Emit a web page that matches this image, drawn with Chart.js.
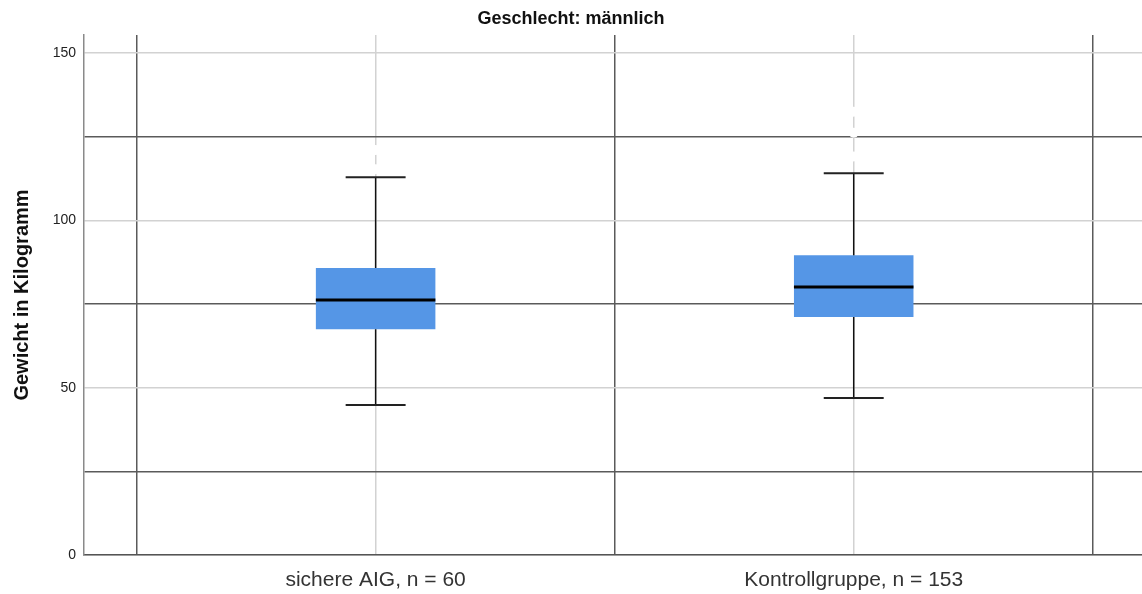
<!DOCTYPE html>
<html>
<head>
<meta charset="utf-8">
<script src="https://cdn.jsdelivr.net/npm/chart.js@4/dist/chart.umd.min.js"></script>
<style>
  html, body { margin: 0; padding: 0; background: #fff; }
  #wrap { width: 1142px; height: 594px; }
</style>
</head>
<body>
<div id="wrap"><canvas id="c" width="1142" height="594"></canvas></div>
<script>
// Body weight by group (men) — box plot summary
const categories = ['sichere AIG, n = 60', 'Kontrollgruppe, n = 153'];
const whiskerLow  = [44.8, 46.9];
const q1          = [67.5, 71.1];
const median      = [76.2, 80.1];
const q3          = [85.8, 89.6];
const whiskerHigh = [112.9, 114.1];
const outliers    = [[121.0, 115.3], [132.5, 126.2, 119.1]];

const yMajorTicks = [0, 50, 100, 150];
const yMinorLines = [25, 75, 125];

const FONT = "'Liberation Sans', Arial, sans-serif";

// whiskers, caps and median line drawn from the summary arrays via the chart scales
const boxPlotLines = {
  id: 'boxPlotLines',
  afterDatasetsDraw(chart) {
    const { ctx, scales: { x, y } } = chart;
    ctx.save();
    categories.forEach((_, i) => {
      const cx = x.getPixelForValue(i);
      const capL = x.getPixelForValue(i - 0.0627);
      const capR = x.getPixelForValue(i + 0.0627);
      const boxL = x.getPixelForValue(i - 0.125);
      const boxR = x.getPixelForValue(i + 0.125);
      ctx.strokeStyle = '#111';
      ctx.lineWidth = 1.5;
      ctx.beginPath();
      ctx.moveTo(cx, y.getPixelForValue(whiskerLow[i]));
      ctx.lineTo(cx, y.getPixelForValue(q1[i]));
      ctx.moveTo(cx, y.getPixelForValue(q3[i]));
      ctx.lineTo(cx, y.getPixelForValue(whiskerHigh[i]));
      ctx.stroke();
      ctx.lineWidth = 2;
      ctx.strokeStyle = '#222';
      ctx.beginPath();
      ctx.moveTo(capL, y.getPixelForValue(whiskerLow[i]));
      ctx.lineTo(capR, y.getPixelForValue(whiskerLow[i]));
      ctx.moveTo(capL, y.getPixelForValue(whiskerHigh[i]));
      ctx.lineTo(capR, y.getPixelForValue(whiskerHigh[i]));
      ctx.stroke();
      ctx.lineWidth = 3;
      ctx.strokeStyle = '#000';
      ctx.beginPath();
      ctx.moveTo(boxL, y.getPixelForValue(median[i]));
      ctx.lineTo(boxR, y.getPixelForValue(median[i]));
      ctx.stroke();
    });
    ctx.restore();
  }
};

const boxData = categories.map((_, i) => ({ x: i, y: [q1[i], q3[i]] }));
const outlierData = [];
outliers.forEach((vals, i) => vals.forEach(v => outlierData.push({ x: i, y: v })));

new Chart(document.getElementById('c'), {
  type: 'bar',
  data: {
    datasets: [
      {
        type: 'bar',
        data: boxData,
        backgroundColor: '#5596e6',
        borderWidth: 0,
        categoryPercentage: 1,
        barPercentage: 0.5,
        order: 2
      },
      {
        type: 'scatter',
        data: outlierData,
        pointRadius: 5,
        pointBackgroundColor: '#ffffff',
        pointBorderWidth: 0,
        order: 1
      }
    ]
  },
  options: {
    responsive: false,
    animation: false,
    layout: { autoPadding: false, padding: { left: 0, right: 0, top: 0, bottom: 0 } },
    plugins: {
      legend: { display: false },
      tooltip: { enabled: false },
      title: {
        display: true,
        text: 'Geschlecht: männlich',
        color: '#111',
        font: { family: FONT, size: 18, weight: 'bold', lineHeight: 1.2 },
        padding: { top: 8, bottom: 5.4 }
      }
    },
    scales: {
      x: {
        type: 'linear',
        offset: false,
        min: -0.610,
        max: 1.603,
        afterBuildTicks(scale) {
          scale.ticks = [-0.5, 0, 0.5, 1, 1.5].map(v => ({ value: v }));
        },
        afterFit(scale) { scale.height = 39; },
        ticks: {
          autoSkip: false,
          maxRotation: 0,
          padding: 13,
          color: '#333',
          font: { family: FONT, size: 21 },
          callback: (v) => (Number.isInteger(v) && categories[v] !== undefined) ? categories[v] : ''
        },
        grid: {
          offset: false,
          drawTicks: false,
          lineWidth: 1.5,
          color: (c) => (c.tick && Number.isInteger(c.tick.value)) ? '#d2d2d2' : '#5a5a5a'
        },
        border: { display: true, color: '#555', width: 1.5 }
      },
      y: {
        min: 0,
        max: 155.4,
        afterBuildTicks(scale) {
          scale.ticks = yMajorTicks.concat(yMinorLines).sort((a, b) => a - b).map(v => ({ value: v }));
        },
        afterFit(scale) { scale.width = 84; },
        title: {
          display: true,
          text: 'Gewicht in Kilogramm',
          color: '#111',
          font: { family: FONT, size: 20, weight: 'bold', lineHeight: 1.2 },
          padding: { top: 10, bottom: 0 }
        },
        ticks: {
          padding: 8,
          color: '#222',
          font: { family: FONT, size: 14 },
          callback: (v) => yMajorTicks.includes(v) ? String(v) : ''
        },
        grid: {
          drawTicks: false,
          lineWidth: 1.5,
          color: (c) => (c.tick && yMinorLines.includes(c.tick.value)) ? '#5a5a5a' : '#d2d2d2'
        },
        border: { display: true, color: '#8a8a8a', width: 1.5 }
      }
    }
  },
  plugins: [boxPlotLines]
});
</script>
</body>
</html>
